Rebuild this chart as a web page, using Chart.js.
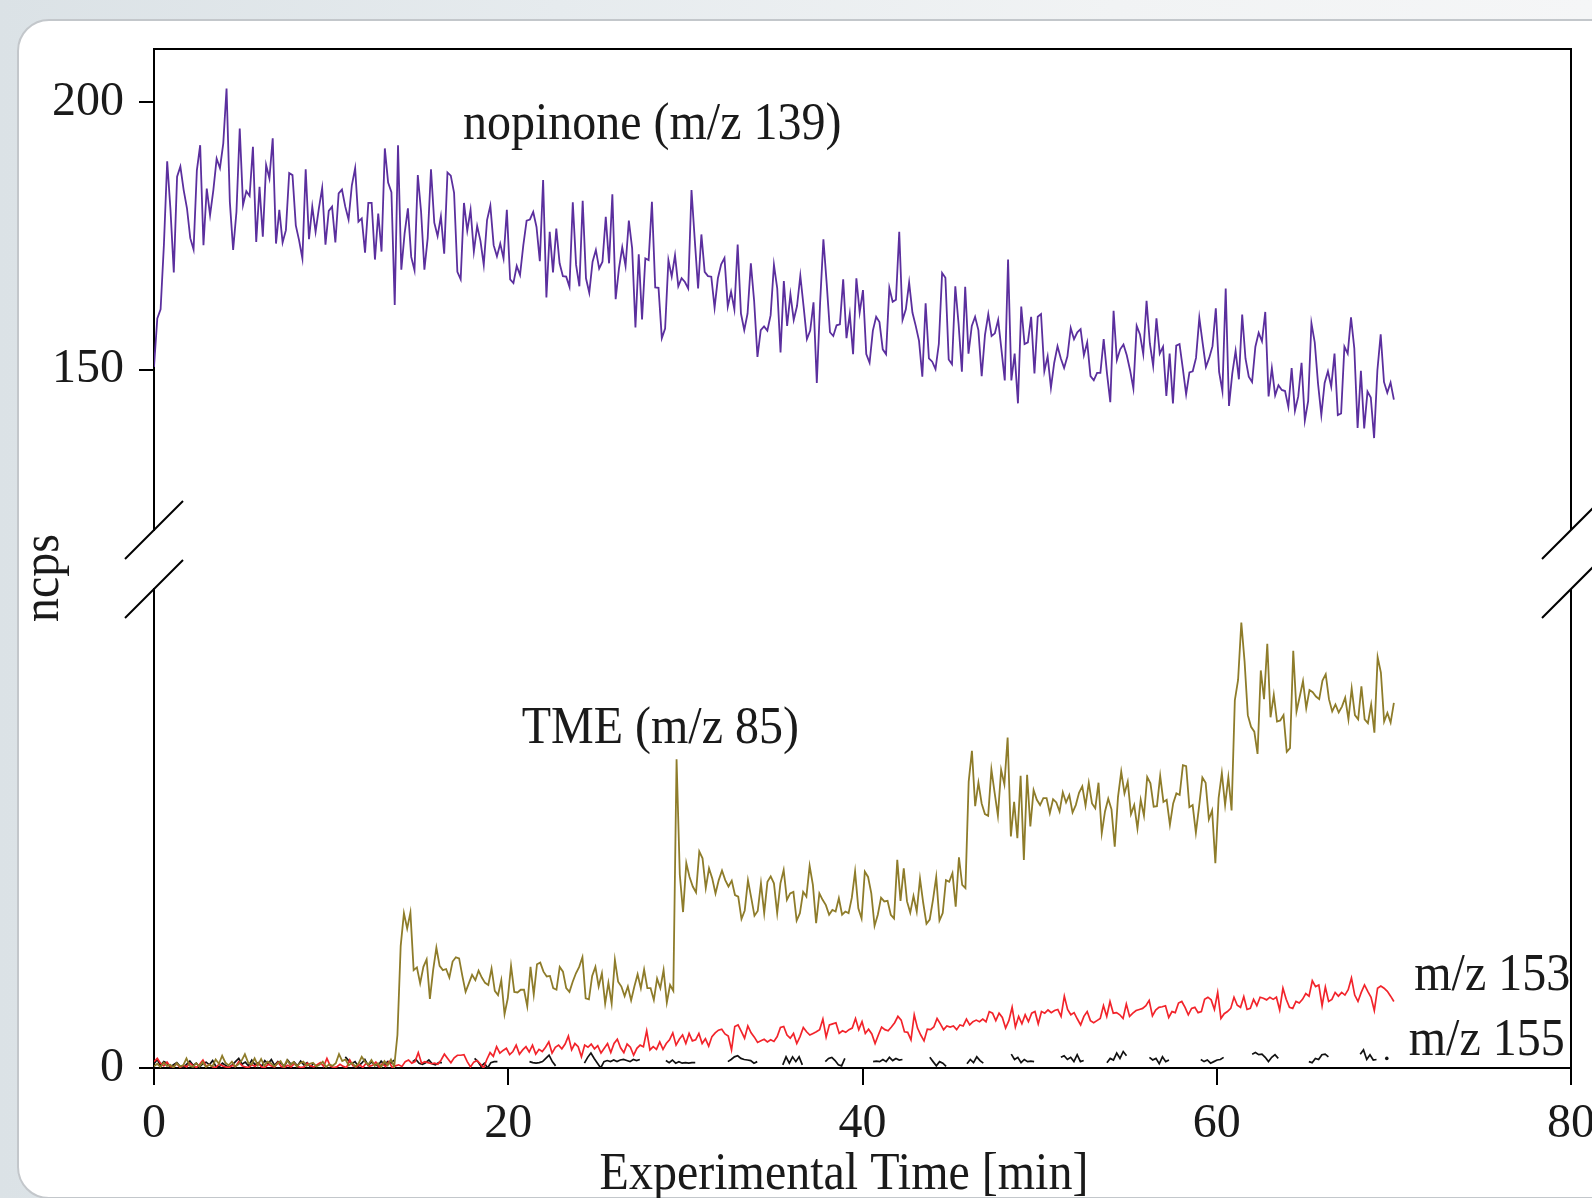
<!DOCTYPE html>
<html>
<head>
<meta charset="utf-8">
<script src="https://cdn.jsdelivr.net/npm/chart.js@4.4.1/dist/chart.umd.min.js"></script>
<style>
html,body{margin:0;padding:0;width:1592px;height:1198px;overflow:hidden;}
body{position:relative;background:linear-gradient(90deg,#dbe2e6 0%,#e6ebee 35%,#f1f3f4 70%,#f5f6f7 100%);}
#card{position:absolute;left:17px;top:19px;width:1640px;height:1176px;background:#fff;border:2px solid #c3c7cb;border-radius:32px;}
canvas{position:absolute;left:0;top:0;}
</style>
</head>
<body>
<div id="card"></div>
<canvas id="upper" width="1592" height="1198"></canvas>
<canvas id="lower" width="1592" height="1198"></canvas>
<script>
// ---------- data ----------
const timeTicks = [0, 20, 40, 60, 80];
const upperTicks = [150, 200];
const lowerTicks = [0];
const seriesEnd = 70;           // minutes covered by every continuous trace

// nopinone (m/z 139), ncps
const nopinone = [
150.5,159.6,161.3,173.3,189.0,179.9,168.2,186.1,188.0,183.6,
180.2,174.6,172.5,187.3,192.0,173.3,183.9,178.9,183.6,189.5,
187.7,192.3,202.6,181.4,172.4,179.5,195.1,180.8,183.4,182.5,
191.7,173.9,184.2,174.9,188.3,185.8,193.3,173.6,179.9,173.8,
176.1,186.8,186.4,177.0,174.2,170.8,187.5,174.4,180.5,175.8,
180.2,184.0,173.4,179.7,180.5,173.8,183.0,183.7,180.5,178.1,
184.5,187.7,177.7,178.3,171.9,181.2,181.2,170.6,179.2,172.1,
191.4,185.0,183.2,162.1,192.0,168.7,175.5,180.2,171.1,168.6,
186.4,179.5,168.7,174.6,187.5,177.5,175.0,178.7,171.7,186.9,
186.3,183.1,168.3,166.9,181.2,176.0,179.9,172.1,176.9,174.1,
169.6,178.0,180.7,173.3,171.2,173.6,170.8,179.9,166.9,166.2,
169.4,167.7,173.3,177.9,178.1,179.5,176.7,170.3,185.5,163.5,
175.8,168.2,176.4,169.9,167.5,167.4,165.5,181.3,169.6,165.6,
181.6,167.1,164.4,170.2,172.4,168.9,170.2,178.6,169.9,182.8,
163.2,168.9,172.9,169.4,177.9,172.7,157.9,171.6,159.4,170.8,
170.5,181.4,165.4,165.3,155.9,157.7,170.5,167.4,171.4,165.6,
167.1,166.4,165.2,183.6,174.2,165.2,175.3,168.3,167.5,167.4,
161.6,167.1,169.7,170.9,161.8,164.6,161.3,173.4,160.5,157.4,
160.5,169.9,162.8,152.4,157.4,158.1,157.3,160.2,169.6,
165.2,153.2,166.6,158.2,164.1,159.3,161.9,167.6,161.8,155.7,
157.3,162.6,147.5,162.5,174.4,166.1,157.0,156.3,158.3,158.5,
166.9,155.9,160.4,152.9,167.1,160.7,164.9,152.9,151.3,157.3,
159.9,158.9,153.8,152.9,165.3,162.7,163.1,175.8,159.3,161.3,
166.3,160.7,158.2,155.4,148.7,162.4,152.1,151.5,150.1,154.8,
168.1,167.2,151.9,151.0,165.6,158.5,149.6,165.5,153.0,158.2,
159.9,157.4,148.8,156.5,160.4,156.3,156.8,159.3,153.7,148.0,
170.6,148.0,153.0,143.7,161.8,154.8,155.1,159.9,149.3,159.9,
160.4,149.7,152.5,146.6,151.3,154.4,152.1,150.3,152.5,157.8,
155.7,157.0,157.6,152.7,155.1,148.8,148.0,149.4,149.4,155.7,
149.3,143.9,161.0,151.8,153.8,154.7,152.7,149.9,146.5,158.2,
156.6,152.9,162.9,154.9,150.7,159.6,153.0,154.3,145.1,153.0,
143.7,154.5,154.8,150.2,145.4,149.5,149.7,152.2,159.7,155.0,
150.5,152.2,154.4,161.5,149.6,146.0,165.2,143.2,149.3,153.5,
148.2,160.3,152.1,148.7,147.7,154.3,156.9,155.3,160.8,145.0,
150.3,145.2,147.1,146.2,146.0,143.0,150.3,142.3,145.0,151.3,
140.5,144.1,158.7,155.1,147.4,141.5,147.5,149.7,146.8,153.0,
141.5,141.8,154.3,153.0,159.8,154.0,139.1,149.8,139.0,145.9,
144.8,137.2,149.9,156.6,147.7,145.7,147.6,144.4
];

// TME (m/z 85), ncps
const tme = [
0.3,0.8,0.2,1.0,0.4,0.6,0.1,0.9,0.3,0.5,
1.8,0.4,0.2,0.9,0.3,1.1,0.2,0.6,0.3,1.6,
0.8,2.3,1.0,0.5,1.2,0.3,0.7,1.4,2.6,1.0,
0.6,1.8,0.5,1.7,0.4,1.2,0.9,0.3,0.8,1.3,
0.2,1.5,0.6,1.1,0.3,0.9,1.2,0.4,0.8,1.0,
0.3,0.6,1.2,0.2,0.7,0.4,0.9,2.6,1.3,1.6,
0.5,1.0,0.3,0.8,2.1,1.2,0.6,1.5,0.4,0.9,
0.2,1.3,0.5,1.6,0.2,
6.2,
22.9,29.1,26.2,29.2,18.4,18.9,15.9,19.0,20.4,13.0,
18.4,22.6,19.2,18.4,18.6,17.0,20.0,20.8,20.6,17.3,
14.3,15.9,17.5,16.5,18.3,17.0,16.0,15.6,18.7,14.5,
13.7,16.5,10.1,13.1,19.2,14.3,14.2,14.7,14.7,11.6,
19.0,13.8,19.5,19.8,18.1,17.2,17.3,15.0,14.7,19.0,
18.1,15.0,14.3,16.2,17.8,19.0,20.8,13.1,12.9,17.3,
19.0,15.3,17.8,12.1,16.0,12.1,20.3,16.2,15.3,13.5,
15.3,12.7,15.3,17.6,15.0,18.5,15.0,15.0,12.8,16.8,
15.0,18.4,12.3,15.6,14.5,
58.0,
36.3,29.3,38.5,35.9,34.1,33.0,40.7,39.4,33.8,37.5,
35.6,32.8,35.3,37.1,35.3,34.1,35.2,32.5,32.2,28.0,
29.6,35.3,32.0,28.6,29.5,34.7,29.1,35.0,36.0,
34.7,29.1,34.7,37.2,31.6,32.8,33.1,27.7,29.1,33.1,
32.2,38.0,34.4,27.2,32.8,31.6,30.6,28.8,29.7,29.4,
31.9,28.8,29.4,29.1,32.0,36.9,30.0,28.1,36.9,35.9,
32.8,26.7,28.8,32.0,31.3,31.4,28.8,28.1,39.1,31.4,
37.5,31.3,29.2,32.3,29.4,35.6,31.0,27.1,27.9,31.6,
35.9,27.7,29.1,35.3,35.0,36.6,30.3,39.6,34.4,33.8,
53.8,59.6,49.2,53.6,49.7,47.7,47.4,56.1,51.7,47.4,
56.0,53.3,62.1,43.5,50.0,43.2,54.9,39.1,55.1,45.4,
52.2,50.4,49.4,50.7,50.7,47.9,50.5,49.9,48.2,51.8,
49.9,51.3,48.0,49.4,51.7,52.9,49.3,53.6,49.7,48.8,
53.6,44.1,48.2,50.6,48.6,41.6,50.9,55.7,51.6,53.8,
47.7,49.4,45.0,50.4,47.4,54.7,53.5,49.1,49.2,54.9,
50.0,50.4,45.7,49.7,51.6,51.3,56.9,56.7,49.0,49.4,
44.2,49.2,54.6,53.6,46.7,48.4,38.5,50.7,55.4,49.4,
54.6,48.4,69.1,72.9,83.7,76.4,66.3,64.1,63.2,59.0,
74.7,69.3,79.7,65.9,70.1,65.1,65.3,66.3,59.4,60.1,
78.4,67.0,69.8,72.7,67.6,71.0,70.6,69.8,69.3,72.8,
74.0,69.3,67.0,68.3,66.8,67.9,69.6,65.5,71.3,66.3,
65.5,71.7,65.5,64.8,68.3,63.0,77.2,74.3,65.1,66.7,
64.9,68.6
];

// m/z 153, ncps
const mz153 = [
1.2,1.8,0.9,0.4,1.1,0.3,0.2,0.8,0.1,0.5,
0.2,0.9,0.4,0.1,0.7,1.5,0.3,0.6,0.2,0.1,
0.8,0.4,0.2,0.1,0.5,0.3,1.2,0.4,0.2,0.1,
0.6,0.3,0.9,0.2,0.1,0.7,0.4,0.2,1.1,0.3,
0.1,0.5,0.2,0.8,0.3,0.1,0.2,0.9,0.4,0.2,
0.6,1.0,0.3,1.8,0.4,0.1,0.2,0.7,0.3,0.1,
1.5,0.4,0.2,0.6,0.1,0.9,0.3,0.5,1.1,0.2,
0.8,0.3,1.2,0.1,0.4,
0.6,0.3,1.2,1.5,0.9,1.2,2.9,0.9,1.2,1.0,
0.8,0.9,0.7,1.5,2.6,1.8,1.0,1.9,2.4,2.4,
2.5,1.2,0.2,1.1,1.4,0.8,0.0,1.6,2.9,2.2,
4.0,2.8,3.3,3.7,2.5,3.1,4.3,2.6,3.4,4.0,
3.0,4.3,2.6,3.5,3.1,3.9,4.9,2.8,3.9,4.3,
3.6,4.5,6.0,3.4,4.6,4.0,2.1,4.3,3.9,4.5,
3.6,4.2,2.8,3.7,4.6,2.9,4.6,5.4,3.8,2.9,
4.5,3.9,2.4,3.7,4.3,4.0,7.0,3.4,4.0,3.5,
4.9,3.5,4.6,5.3,6.6,4.3,5.4,6.2,4.6,6.5,
5.1,5.3,6.5,4.6,5.5,4.1,5.9,6.6,7.1,7.3,
6.4,6.0,3.4,7.8,8.1,6.9,5.6,7.9,6.6,5.8,
4.8,5.1,5.4,4.9,
5.3,5.0,5.9,7.6,7.8,6.2,5.6,6.5,4.6,5.9,
7.6,6.8,6.2,6.5,6.8,7.2,9.2,5.8,8.1,8.3,
8.5,6.5,7.0,6.7,7.2,7.5,9.3,7.2,8.7,6.5,
7.3,6.4,4.6,6.2,7.7,7.2,7.0,7.7,8.5,9.7,
9.0,6.8,6.7,5.3,10.0,7.5,6.2,5.1,7.3,7.2,
7.7,9.3,8.3,7.2,7.9,7.7,7.9,7.2,8.1,7.9,
9.2,8.1,8.7,9.0,8.7,9.2,8.7,10.6,10.3,8.9,
10.3,9.5,7.5,8.9,11.4,7.7,9.7,8.3,10.0,8.7,
10.3,10.6,8.3,10.6,10.3,10.9,10.4,10.8,11.0,9.7,
13.5,11.0,10.0,10.4,9.2,8.1,9.7,10.6,8.9,8.5,
8.9,9.3,11.7,9.7,12.5,10.3,10.4,10.0,9.3,12.0,
9.7,10.3,10.8,11.0,11.2,11.7,12.7,9.8,10.9,11.4,
11.5,11.7,9.5,10.6,10.4,12.2,12.5,11.4,10.0,11.2,
11.4,10.4,10.6,12.9,13.3,12.8,11.0,14.2,9.3,10.2,
10.6,11.2,13.3,11.8,11.4,13.4,11.0,11.2,12.9,11.7,
13.3,13.1,12.8,13.3,12.9,13.3,10.9,15.0,12.9,11.4,
11.2,12.5,12.2,12.9,14.0,13.5,16.4,15.3,15.6,11.7,
15.2,12.5,12.9,14.2,13.5,14.2,13.7,14.7,16.9,13.7,
12.5,14.2,15.6,14.4,13.3,10.8,15.0,15.4,15.0,14.4,
13.5,12.5
];

// m/z 155, ncps: recorded only in short bursts (start time [min] of each burst + its samples)
const mz155Step = 0.184;
const mz155Starts = [0, 10.8, 14.6, 18.1, 21.2, 24.3, 28.9, 32.4, 35.5, 37.9, 40.6, 43.8, 45.9, 48.4, 51.2, 53.8, 56.2, 59.1, 62.0, 65.2, 68.1, 69.6];
const mz155Bursts = [
[0.8,1.6,0.4,1.2,0.9,0.2,0.6,1.0,0.3,0.1,0.7,1.3,0.5,0.9,0.2,0.8,1.1,0.6,1.4,0.3,
 0.2,0.9,0.5,0.1,0.6,1.2,1.8,0.7,1.1,0.4,1.5,0.6,1.0,0.3,1.4,0.8,1.6,0.5,1.2,0.9,
 0.3,1.5,0.7,1.1,0.4,1.3,0.6,1.0,0.2,0.9],
[2.1,1.4,0.8,1.2,0.3,0.9,1.6,0.5,1.1,0.7,0.4,1.3,0.6,1.2,0.9,1.5],
[1.2,1.6,0.9,0.7,1.0,1.5,0.8,0.6,1.0,1.0],
[1.8,1.2,0.3,0.9,0.0,1.0,1.2,1.2],
[1.2,1.0,0.9,1.0,1.2,1.8,2.4,1.2,0.4],
[0.9,2.0,2.8,1.8,0.9,0.0,1.2,1.4,1.2,1.5,1.2,1.5,1.6,1.4,1.2,1.6,1.4,1.6],
[1.4,1.0,1.5,0.9,1.2,0.9,1.0,0.9,1.0,1.0],
[1.2,1.6,2.1,2.3,1.8,1.6,1.5,1.4,0.9,1.2],
[0.6,2.1,0.9,2.1,1.2,2.1,0.6],
[1.2,1.8,2.0,1.4,0.6,0.4,1.8],
[1.2,1.3,1.2,1.6,1.2,2.0,1.4,1.8,1.5,1.6],
[2.0,1.2,0.4,1.2,0.9,0.3],
[0.8,1.6,1.0,2.1,1.4,0.9],
[2.6,1.6,2.0,1.0,1.6,1.2,1.3,1.2],
[2.0,2.3,1.6,2.0,1.2,2.5,1.2,1.4],
[1.0,1.8,1.5,2.8,1.8,3.1,2.3],
[2.0,1.5,1.8,0.8,2.1,1.2,1.5],
[1.6,1.2,1.5,0.9,1.2,1.5,1.6,2.0],
[2.6,2.9,2.5,2.6,2.0,1.2,2.0,2.5,1.8],
[1.2,1.0,1.8,1.6,2.5,2.6,2.1],
[2.6,3.4,1.6,2.5,1.5,1.6],
[1.8]
];

// ---------- helpers ----------
const SERIF = '"Liberation Serif", "Times New Roman", Times, serif';
const INK = '#1a1a1a';
const STRETCH = 1.1;   // the original serif face is slightly taller than Liberation Serif

function evenlySampled(values) {
  const step = seriesEnd / (values.length - 1);
  return values.map((v, i) => ({x: i * step, y: v}));
}
function bursts(starts, groups, step) {
  const pts = [];
  groups.forEach((g, k) => {
    g.forEach((v, j) => pts.push({x: starts[k] + j * step, y: v}));
    pts.push({x: starts[k] + g.length * step, y: null});
  });
  return pts;
}
function isolatedDot(c) {
  const d = c.dataset.data, i = c.dataIndex;
  if (!d[i] || d[i].y === null) return 0;
  const p = d[i - 1], n = d[i + 1];
  return ((!p || p.y === null) && (!n || n.y === null)) ? 1.8 : 0;
}
function tallText(ctx, text, x, y, align, rotate) {
  ctx.save();
  ctx.translate(x, y);
  if (rotate) ctx.rotate(rotate);
  ctx.scale(1, STRETCH);
  ctx.textAlign = align;
  ctx.textBaseline = 'alphabetic';
  ctx.fillText(text, 0, 0);
  ctx.restore();
}

const annotate = {
  id: 'annotate',
  afterDatasetsDraw(chart, args, opts) {
    const {ctx, scales: {x, y}} = chart;
    ctx.save();
    ctx.fillStyle = INK;
    ctx.font = '48px ' + SERIF;
    (opts.items || []).forEach(it => tallText(ctx, it.text, x.getPixelForValue(it.x), y.getPixelForValue(it.y), 'left'));
    ctx.restore();
  }
};

function frameAndBreaks(edge) {
  return {
    id: 'frame_' + edge,
    afterDraw(chart) {
      const {ctx, chartArea: a} = chart;
      ctx.save();
      ctx.strokeStyle = '#000';
      ctx.lineWidth = 2;
      ctx.beginPath();
      if (edge === 'bottom') {          // upper panel: top and right sides
        ctx.moveTo(a.left - 1, a.top);
        ctx.lineTo(a.right, a.top);
        ctx.lineTo(a.right, a.bottom);
      } else {                          // lower panel: right side
        ctx.moveTo(a.right, a.top);
        ctx.lineTo(a.right, a.bottom);
      }
      ctx.stroke();
      const yb = edge === 'bottom' ? a.bottom : a.top;
      const d = 29;
      [a.left, a.right].forEach(xb => {
        ctx.beginPath();
        ctx.moveTo(xb - d, yb + d);
        ctx.lineTo(xb + d, yb - d);
        ctx.stroke();
      });
      ctx.fillStyle = INK;
      ctx.font = '48px ' + SERIF;
      if (edge === 'bottom') {
        tallText(ctx, 'ncps', 58, 578, 'center', -Math.PI / 2);
      } else {
        tallText(ctx, 'Experimental Time [min]', 844, 1189, 'center');
      }
      ctx.restore();
    }
  };
}

const tickFont = {family: SERIF, size: 48};
function yAxis(range, ticks) {
  return {
    min: range[0], max: range[1],
    afterBuildTicks: s => { s.ticks = ticks.map(v => ({value: v})); },
    afterFit: s => { s.width = 154; s.paddingTop = 0; s.paddingBottom = 0; },
    grid: {drawOnChartArea: false, drawTicks: true, tickLength: 15, color: '#000', lineWidth: 2},
    border: {display: true, color: '#000', width: 2},
    ticks: {color: INK, font: tickFont, padding: 15}
  };
}

// ---------- upper panel ----------
new Chart(document.getElementById('upper'), {
  type: 'line',
  data: {datasets: [{
    label: 'nopinone (m/z 139)',
    data: evenlySampled(nopinone),
    borderColor: '#5b2f9e', borderWidth: 1.8, pointRadius: 0, tension: 0
  }]},
  options: {
    responsive: false, animation: false, devicePixelRatio: 1,
    layout: {padding: {left: 0, top: 49, right: 21, bottom: 668}},
    plugins: {
      legend: {display: false}, tooltip: {enabled: false},
      annotate: {items: [{text: 'nopinone (m/z 139)', x: 17.44, y: 193.1}]}
    },
    scales: {
      x: {type: 'linear', min: 0, max: 80, display: false},
      y: yAxis([120, 210], upperTicks)
    }
  },
  plugins: [annotate, frameAndBreaks('bottom')]
});

// ---------- lower panel ----------
new Chart(document.getElementById('lower'), {
  type: 'line',
  data: {datasets: [
    {label: 'TME (m/z 85)', data: evenlySampled(tme), borderColor: '#8e7c2a', borderWidth: 1.8, pointRadius: 0, tension: 0},
    {label: 'm/z 153', data: evenlySampled(mz153), borderColor: '#f2242b', borderWidth: 1.7, pointRadius: 0, tension: 0},
    {label: 'm/z 155', data: bursts(mz155Starts, mz155Bursts, mz155Step), borderColor: '#111', backgroundColor: '#111',
     borderWidth: 1.7, pointRadius: isolatedDot, pointBorderWidth: 0, tension: 0, spanGaps: false}
  ]},
  options: {
    responsive: false, animation: false, devicePixelRatio: 1,
    layout: {padding: {left: 0, top: 589, right: 21, bottom: 0}},
    plugins: {
      legend: {display: false}, tooltip: {enabled: false},
      annotate: {items: [
        {text: 'TME (m/z 85)', x: 20.76, y: 61.1},
        {text: 'm/z 153', x: 71.15, y: 14.7},
        {text: 'm/z 155', x: 70.84, y: 2.4}
      ]}
    },
    scales: {
      x: {
        type: 'linear', min: 0, max: 80,
        afterBuildTicks: s => { s.ticks = timeTicks.map(v => ({value: v})); },
        afterFit: s => { s.height = 130; s.paddingLeft = 0; s.paddingRight = 0; },
        grid: {drawOnChartArea: false, drawTicks: true, tickLength: 17, color: '#000', lineWidth: 2},
        border: {display: true, color: '#000', width: 2},
        ticks: {color: INK, font: tickFont, padding: 11, maxRotation: 0, autoSkip: false},
        title: {display: false, text: 'Experimental Time [min]'}
      },
      y: yAxis([0, 90], lowerTicks)
    }
  },
  plugins: [annotate, frameAndBreaks('top')]
});
</script>
</body>
</html>
